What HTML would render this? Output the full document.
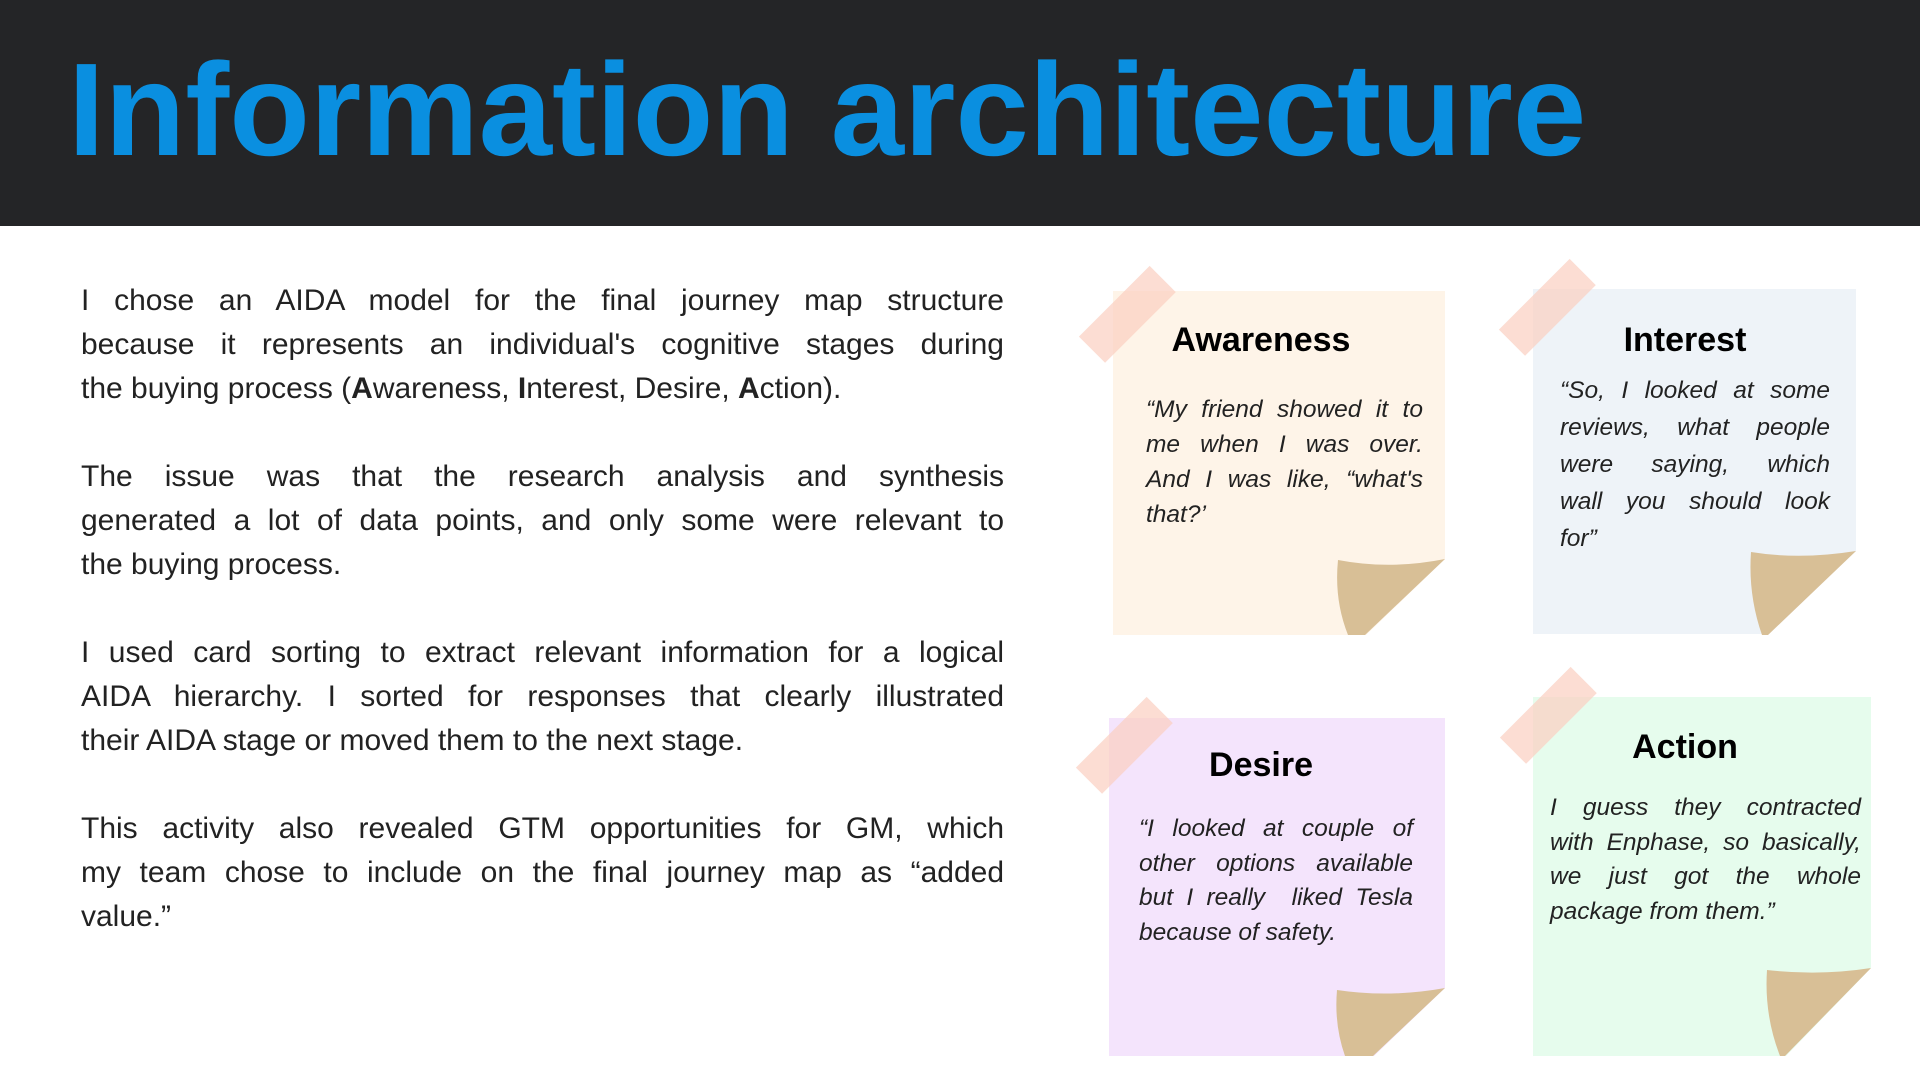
<!DOCTYPE html>
<html><head><meta charset="utf-8">
<style>
html,body{margin:0;padding:0;}
body{width:1920px;height:1080px;position:relative;overflow:hidden;background:#fff;font-family:"Liberation Sans",sans-serif;}
.hdr{position:absolute;left:0;top:0;width:1920px;height:226px;background:#242527;}
.title{position:absolute;left:68px;top:30px;font-size:132px;font-weight:bold;color:#0a8fe0;white-space:nowrap;letter-spacing:0px;line-height:160px;}
.para{position:absolute;left:81px;width:923px;font-size:30px;color:#222;line-height:44px;}
.ln{text-align:justify;text-align-last:justify;white-space:nowrap;height:44px;}
.ln.l{text-align-last:left;}
svg{position:absolute;left:0;top:0;}
.ct{position:absolute;font-size:34px;font-weight:bold;color:#000;white-space:nowrap;transform:translateX(-50%);line-height:40px;}
.q{position:absolute;font-size:24.5px;font-style:italic;color:#222;}
.q div{text-align:justify;text-align-last:justify;white-space:nowrap;}
.q div.l{text-align-last:left;}
</style></head><body>
<div class="hdr"></div>
<div class="title">Information architecture</div>

<div class="para" style="top:279px">
<div class="ln">I chose an AIDA model for the final journey map structure</div>
<div class="ln">because it represents an individual's cognitive stages during</div>
<div class="ln l">the buying process (<b>A</b>wareness, <b>I</b>nterest, Desire, <b>A</b>ction).</div>
<div class="ln"></div>
<div class="ln">The issue was that the research analysis and synthesis</div>
<div class="ln">generated a lot of data points, and only some were relevant to</div>
<div class="ln l">the buying process.</div>
<div class="ln"></div>
<div class="ln">I used card sorting to extract relevant information for a logical</div>
<div class="ln">AIDA hierarchy. I sorted for responses that clearly illustrated</div>
<div class="ln l">their AIDA stage or moved them to the next stage.</div>
<div class="ln"></div>
<div class="ln">This activity also revealed GTM opportunities for GM, which</div>
<div class="ln">my team chose to include on the final journey map as “added</div>
<div class="ln l">value.”</div>
</div>

<svg width="1920" height="1080" viewBox="0 0 1920 1080">
<!-- Awareness -->
<rect x="1113" y="291" width="332" height="344" fill="#fef4e8"/>
<polygon points="1445,559 1445,636 1365,636" fill="#fff"/>
<path d="M1338,560 Q1390,570 1445,559 L1365,635 L1348,635 Q1334,600 1338,560 Z" fill="#d8bf96"/>
<rect x="1077" y="296" width="100" height="37" fill="#fbcfc0" opacity="0.7" transform="rotate(-45 1127 314)"/>
<!-- Interest -->
<rect x="1533" y="289" width="323" height="345" fill="#eef3f8"/>
<polygon points="1856,551 1856,635 1768,635" fill="#fff"/>
<path d="M1751,552 Q1800,560 1856,551 L1768,635 L1762,635 Q1748,595 1751,552 Z" fill="#d8bf96"/>
<rect x="1497" y="289" width="100" height="37" fill="#fbcfc0" opacity="0.7" transform="rotate(-45 1547 307)"/>
<!-- Desire -->
<rect x="1109" y="718" width="336" height="338" fill="#f4e4fc"/>
<polygon points="1445,988 1445,1057 1373,1057" fill="#fff"/>
<path d="M1337,990 Q1390,998 1445,988 L1373,1056 L1345,1056 Q1334,1025 1337,990 Z" fill="#d8bf96"/>
<rect x="1074" y="727" width="100" height="37" fill="#fbcfc0" opacity="0.7" transform="rotate(-45 1124 745)"/>
<!-- Action -->
<rect x="1533" y="697" width="338" height="359" fill="#e6fced"/>
<polygon points="1871,968 1871,1057 1785,1057" fill="#fff"/>
<path d="M1767,970 Q1820,976 1871,968 L1785,1056 L1780,1056 Q1764,1015 1767,970 Z" fill="#d8bf96"/>
<rect x="1498" y="697" width="100" height="37" fill="#fbcfc0" opacity="0.7" transform="rotate(-45 1548 715)"/>
</svg>

<div class="ct" style="left:1261px;top:320px">Awareness</div>
<div class="q" style="left:1146px;top:392px;width:277px;line-height:35px">
<div>“My friend showed it to</div>
<div>me when I was over.</div>
<div>And I was like, “what's</div>
<div class="l">that?’</div>
</div>

<div class="ct" style="left:1685px;top:320px">Interest</div>
<div class="q" style="left:1560px;top:372px;width:270px;line-height:37px">
<div>“So, I looked at some</div>
<div>reviews, what people</div>
<div>were saying, which</div>
<div>wall you should look</div>
<div class="l">for”</div>
</div>

<div class="ct" style="left:1261px;top:745px">Desire</div>
<div class="q" style="left:1139px;top:812px;width:274px;line-height:34.5px">
<div>“I looked at couple of</div>
<div>other options available</div>
<div>but I really&nbsp; liked Tesla</div>
<div class="l">because of safety.</div>
</div>

<div class="ct" style="left:1685px;top:727px">Action</div>
<div class="q" style="left:1550px;top:791px;width:311px;line-height:34.5px">
<div>I guess they contracted</div>
<div>with Enphase, so basically,</div>
<div>we just got the whole</div>
<div class="l">package from them.”</div>
</div>
</body></html>
